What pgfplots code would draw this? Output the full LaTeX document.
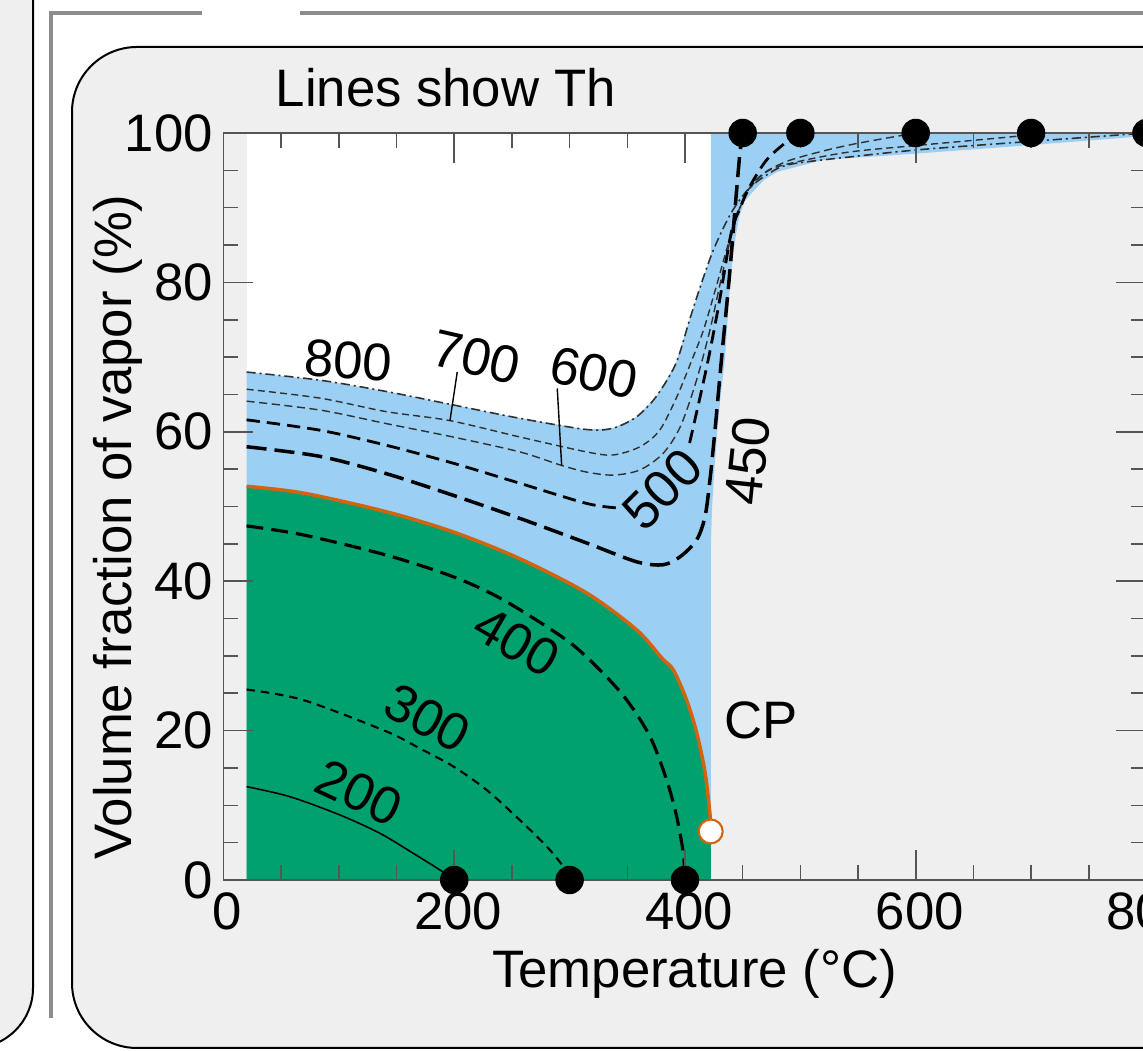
\documentclass[border=0pt]{standalone}
\usepackage{fontspec}
\setmainfont{Liberation Sans}
\usepackage{pgfplots}
\pgfplotsset{compat=1.18}
\definecolor{panelgray}{HTML}{EFEFEF}
\definecolor{bracketgray}{HTML}{8C8C8C}
\definecolor{vblue}{HTML}{9BD0F4}
\definecolor{lgreen}{HTML}{00A06F}
\definecolor{orangeL}{HTML}{D2640F}
\definecolor{axgray}{HTML}{555555}
\definecolor{lgray}{HTML}{303030}
\begin{document}
\begin{tikzpicture}[font=\fontsize{15}{18}\selectfont]
% left neighbour panel
\fill[panelgray, rounded corners=0.6cm] (-1,0.03) -- (0.33,0.03) -- (0.33,12) -- (-1,12) -- cycle;
\draw[line width=0.02cm, rounded corners=0.6cm] (-1,0.03) -- (0.33,0.03) -- (0.33,12);
% gray bracket lines
\draw[bracketgray, line width=0.045cm] (0.51,0.33) -- (0.51,10.38) -- (2.02,10.38);
\draw[bracketgray, line width=0.045cm] (3.00,10.38) -- (11.6,10.38);
% main panel
\draw[fill=panelgray, line width=0.02cm, rounded corners=0.65cm] (0.72,0.03) rectangle (12.5,10.04);

\begin{axis}[
  at={(2.235cm,1.71cm)}, anchor=south west,
  scale only axis, width=9.23cm, height=7.47cm,
  xmin=0, xmax=800, ymin=0, ymax=100,
  clip=false,
  axis on top,
  axis line style={axgray, line width=0.55pt},
  xtick={0,200,...,800}, ytick={0,20,...,100},
  minor xtick={50,100,...,750}, minor ytick={5,10,...,95},
  tick align=inside,
  major tick length=0.3cm, minor tick length=0.15cm,
  every tick/.style={axgray, line width=0.45pt},
  tick label style={font=\fontsize{15}{18}\selectfont},
  /pgf/number format/assume math mode=true,
  yticklabel style={inner sep=0pt, xshift=-0.1cm},
  xticklabel style={xshift=0.04cm},
]
% white box
\addplot[fill=white, draw=none] coordinates {(20,0) (422.5,0) (422.5,100) (20,100)};
% blue region
\addplot[fill=vblue, draw=none] coordinates {
 (20,0) (20,68.0) (84,66.9) (141,65.4) (199,63.6) (257,61.8) (315,60.3) (338,60.5)
 (358,62.0) (375,64.7) (392,69.1) (404,75.0) (413,79.3) (422.5,83.6) (422.5,100)
 (800,100) (800,99.6) (693,98.3) (606,97.3) (520,96.4) (480,94.8) (469,93.8)
 (458,92.0) (452,90.9) (447,88.8) (443.5,85.8) (439.5,80.7) (434.5,69.6) (431,65)
 (428,60.2) (425.5,55) (423.5,50) (422.5,45) (422.5,0)};
% green region
\addplot[fill=lgreen, draw=none] coordinates {
 (20,0) (20,52.7) (69,51.8) (141,49.3) (199,46.6) (257,43.0) (315,38.4) (358,33.5)
 (380,29.7) (390,28.1) (401.4,24.1) (410,19.8) (417.3,14.5) (421.6,8.9) (422.3,6.5)
 (422.5,6.5) (422.5,0)};
% orange boundary
\addplot[orangeL, line width=1pt, smooth, tension=0.5] coordinates {
 (20,52.7) (69,51.8) (141,49.3) (199,46.6) (257,43.0) (315,38.4) (358,33.5)
 (380,29.7) (390,28.1) (401.4,24.1) (410,19.8) (417.3,14.5) (421.6,8.9) (422.3,6.5)};
% Th contours
\addplot[lgray, line width=0.45pt, dash pattern=on 2.6pt off 1.1pt on 0.6pt off 1.1pt, smooth, tension=0.5] coordinates {
 (20,68.0) (84,66.9) (141,65.4) (199,63.6) (257,61.8) (315,60.3) (338,60.5) (358,62.0)
 (375,64.7) (392,69.1) (404,75.0) (413,79.3) (422.5,83.5) (432,86.9) (442,89.8)
 (455,92.5) (471,94.4) (491,95.8) (549,96.9) (606,97.8) (693,98.8) (800,100)};
\addplot[lgray, line width=0.4pt, dash pattern=on 2pt off 1.2pt, smooth, tension=0.5] coordinates {
 (20,65.7) (84,64.5) (141,62.7) (196,61.5) (257,59.3) (315,57.3) (338,56.9) (361,58.0)
 (378,60.2) (393,64.7) (407,70.0) (416,73.6) (425,78.3) (435,83.8) (444,88.6)
 (455,92.3) (468,94.5) (485,95.7) (540,97.4) (606,98.4) (690,99.6) (700,100)};
\addplot[lgray, line width=0.4pt, dash pattern=on 2.3pt off 1.3pt, smooth, tension=0.5] coordinates {
 (20,64.1) (84,62.9) (141,61.1) (199,59.3) (257,57.3) (293,55.5) (315,54.6) (338,54.2)
 (361,54.9) (381,57.1) (396,60.7) (410,66.9) (421.6,73.6) (430,79.5) (439,85.5)
 (447,89.8) (457,92.9) (470,94.8) (490,96.3) (520,97.6) (549,98.6) (589,99.7) (600,100)};
\addplot[black, line width=0.8pt, dash pattern=on 3.8pt off 2pt, smooth, tension=0.5] coordinates {
 (20,61.6) (84,60.2) (141,58.2) (199,55.8) (257,53.1) (315,50.4) (342,49.8)};
\addplot[black, line width=0.8pt, dash pattern=on 3.8pt off 2pt, smooth, tension=0.5] coordinates {
 (404,58.5) (413,64.6) (421,70.3) (430,77.6) (440,86.6) (447.6,89.9) (456,92.8)
 (470.8,96.4) (488,98.8) (500,100)};
\addplot[black, line width=1pt, dash pattern=on 5.7pt off 2.3pt, smooth, tension=0.5] coordinates {
 (20,58.0) (84,56.7) (141,54.4) (199,51.5) (257,48.4) (315,45.1) (358,42.6) (381,42.2)
 (396,43.3) (410,45.5) (417.3,48.6) (421.6,53.5) (426,60.2) (431.5,69.5) (438.5,80.8)
 (443.3,89.7) (447.6,97.3) (450,100)};
\addplot[black, line width=0.9pt, dash pattern=on 4.8pt off 2.3pt, smooth, tension=0.5] coordinates {
 (20,47.4) (69,46.2) (141,43.5) (199,40.6) (242.5,37.5) (297.5,32.1) (326.3,28.1)
 (349.5,24.1) (369.7,19.2) (384.1,13.4) (392.8,8.5) (398.5,3.6) (400,0)};
\addplot[black, line width=0.6pt, dash pattern=on 2.4pt off 1.7pt, smooth, tension=0.5] coordinates {
 (20,25.5) (69,24.1) (141,19.9) (170.3,17.6) (199.2,15.2) (228.1,12.05) (257,8.0)
 (280.1,4.5) (294.5,1.8) (300,0)};
\addplot[black, line width=0.45pt, smooth, tension=0.5] coordinates {
 (20,12.5) (57.6,11.15) (101,8.7) (135.6,6.25) (164.5,3.57) (187.6,1.34) (200,0)};
% leader lines
\addplot[black, line width=0.4pt] coordinates {(202.6,68.0) (196.3,61.5)};
\addplot[black, line width=0.4pt] coordinates {(289.3,65.8) (293.1,55.5)};
% end points
\addplot[only marks, mark=*, mark size=3.85pt, black] coordinates {
 (450,100) (500,100) (600,100) (700,100) (800,100) (200,0) (300,0) (400,0)};
\addplot[only marks, mark=*, mark size=3.4pt, mark options={fill=white, draw=orangeL, line width=0.6pt}] coordinates {(422.3,6.5)};
% contour labels
\node[rotate=-4, inner sep=0pt] at (axis cs:108.2,69.6) {800};
\node[rotate=-13, inner sep=0pt] at (axis cs:219.4,70.0) {700};
\node[rotate=-12, inner sep=0pt] at (axis cs:321,67.9) {600};
\node[rotate=45, inner sep=0pt] at (axis cs:380.5,52.3) {500};
\node[rotate=84, inner sep=0pt] at (axis cs:454.2,56.1) {450};
\node[rotate=-30, inner sep=0pt] at (axis cs:254.1,31.9) {400};
\node[rotate=-28, inner sep=0pt] at (axis cs:176.8,21.7) {300};
\node[rotate=-25, inner sep=0pt] at (axis cs:117.6,11.7) {200};
\node[inner sep=0pt] at (axis cs:465.8,21.4) {CP};
\end{axis}
\node[anchor=base west, inner sep=0pt] at (2.75,9.44) {Lines show Th};
\node[anchor=base, inner sep=0pt] at (6.946,0.63) {Temperature (°C)};
\node[anchor=base, rotate=90, inner sep=0pt] at (1.31,5.24) {Volume fraction of vapor (\%)};
\pgfresetboundingbox
\useasboundingbox (0,0) rectangle (11.43,10.51);
\end{tikzpicture}
\end{document}
